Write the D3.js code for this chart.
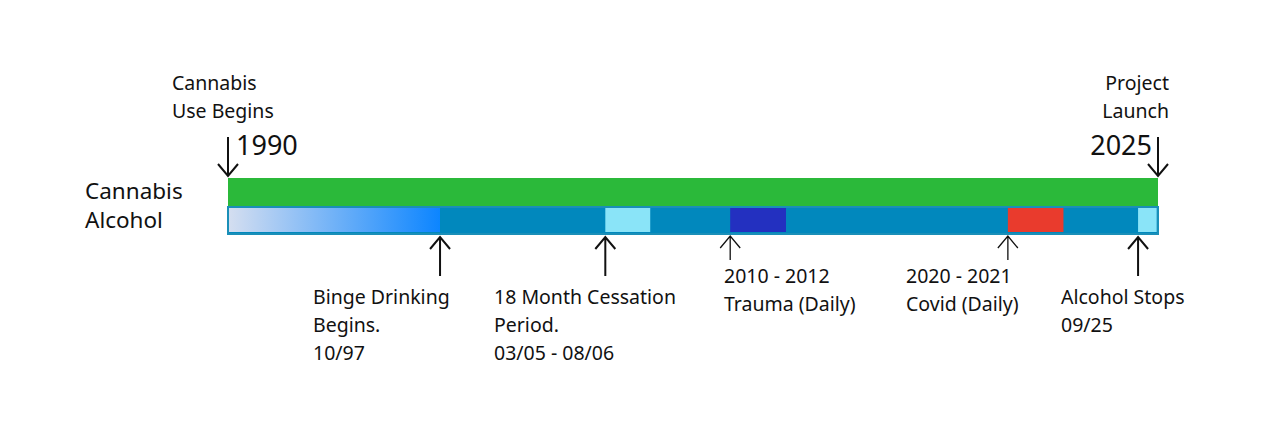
<!DOCTYPE html>
<html><head><meta charset="utf-8">
<script src="https://cdn.jsdelivr.net/npm/d3@7"></script>
<style>body{margin:0;background:#fff}text{font-family:"Source Sans Pro","Noto Sans",sans-serif;fill:#111}</style>
</head><body>
<svg id="chart" width="1280" height="426"></svg>
<script>
// timeline span (decimal years)
const startYear = 1990, endYear = 2025;
// alcohol segments [start, end, colour]
const alcoholSegments = [
  [1990, 1997.98, "grad"],
  [1997.98, 2004.2, "#0188bd"],
  [2004.2, 2005.9, "#8ae4f8"],
  [2005.9, 2008.9, "#0188bd"],
  [2008.9, 2011.0, "#2330c0"],
  [2011.0, 2019.35, "#0188bd"],
  [2019.35, 2021.45, "#e93b2d"],
  [2021.45, 2024.25, "#0188bd"],
  [2024.25, 2024.95, "#8ae4f8"]
];
// bottom markers: year, label lines, long arrow?, label x
const bottomMarkers = [
  [1997.98, ["Binge Drinking", "Begins.", "10/97"], true, 313],
  [2004.2, ["18 Month Cessation", "Period.", "03/05 - 08/06"], true, 494],
  [2008.9, ["2010 - 2012", "Trauma (Daily)"], false, 724],
  [2019.35, ["2020 - 2021", "Covid (Daily)"], false, 906],
  [2024.25, ["Alcohol Stops", "09/25"], true, 1061]
];

const svg = d3.select("#chart");
const x = d3.scaleLinear().domain([startYear, endYear]).range([228, 1158]);

const defs = svg.append("defs");
const grad = defs.append("linearGradient").attr("id", "g1");
grad.append("stop").attr("offset", "0%").attr("stop-color", "#d4def0");
grad.append("stop").attr("offset", "100%").attr("stop-color", "#0c85ff");

// cannabis bar
svg.append("rect").attr("x", x(startYear)).attr("y", 178)
  .attr("width", x(endYear) - x(startYear)).attr("height", 28).attr("fill", "#2bb93a");

// alcohol bar
svg.append("rect").attr("x", x(startYear)).attr("y", 207)
  .attr("width", x(endYear) - x(startYear)).attr("height", 27).attr("fill", "#0188bd")
  .attr("stroke", "#1a8fb8").attr("stroke-width", 2);
svg.selectAll("rect.seg").data(alcoholSegments).join("rect")
  .attr("class", "seg")
  .attr("x", d => x(d[0]) + (d[0] === startYear ? 1 : 0)).attr("y", 208)
  .attr("width", d => x(d[1]) - x(d[0]) - (d[0] === startYear ? 1 : 0)).attr("height", 24)
  .attr("fill", d => d[2] === "grad" ? "url(#g1)" : d[2]);

function arrow(px, y1, y2, w) {
  const dir = y2 > y1 ? -1 : 1;
  svg.append("path")
    .attr("d", `M${px},${y1}L${px},${y2}M${px - 10},${y2 + dir * 12}L${px},${y2}L${px + 10},${y2 + dir * 12}`)
    .attr("stroke", "#111").attr("stroke-width", w).attr("fill", "none");
}

// top markers
arrow(x(startYear), 137, 176, 2);
arrow(x(endYear), 137, 176, 2);
const topText = (lines, px, anchor) => lines.forEach((t, i) =>
  svg.append("text").attr("x", px).attr("y", 90 + i * 28).attr("font-size", 19.5)
    .attr("text-anchor", anchor).text(t));
topText(["Cannabis", "Use Begins"], 172, "start");
topText(["Project", "Launch"], 1169, "end");
svg.append("text").attr("x", 236).attr("y", 155).attr("font-size", 27).text(startYear);
svg.append("text").attr("x", 1152).attr("y", 155).attr("font-size", 27).attr("text-anchor", "end").text(endYear);

// row labels
svg.append("text").attr("x", 85).attr("y", 199).attr("font-size", 22.5).text("Cannabis");
svg.append("text").attr("x", 85).attr("y", 228).attr("font-size", 22.5).text("Alcohol");

// bottom markers
bottomMarkers.forEach(([yr, lines, long, tx]) => {
  const px = x(yr);
  if (long) arrow(px, 276, 237, 2);
  else arrow(px, 260, 236, 1.3);
  const y0 = long ? 304 : 283;
  lines.forEach((t, i) => svg.append("text").attr("x", tx).attr("y", y0 + i * 28)
    .attr("font-size", 19.5).text(t));
});
</script>
</body></html>
